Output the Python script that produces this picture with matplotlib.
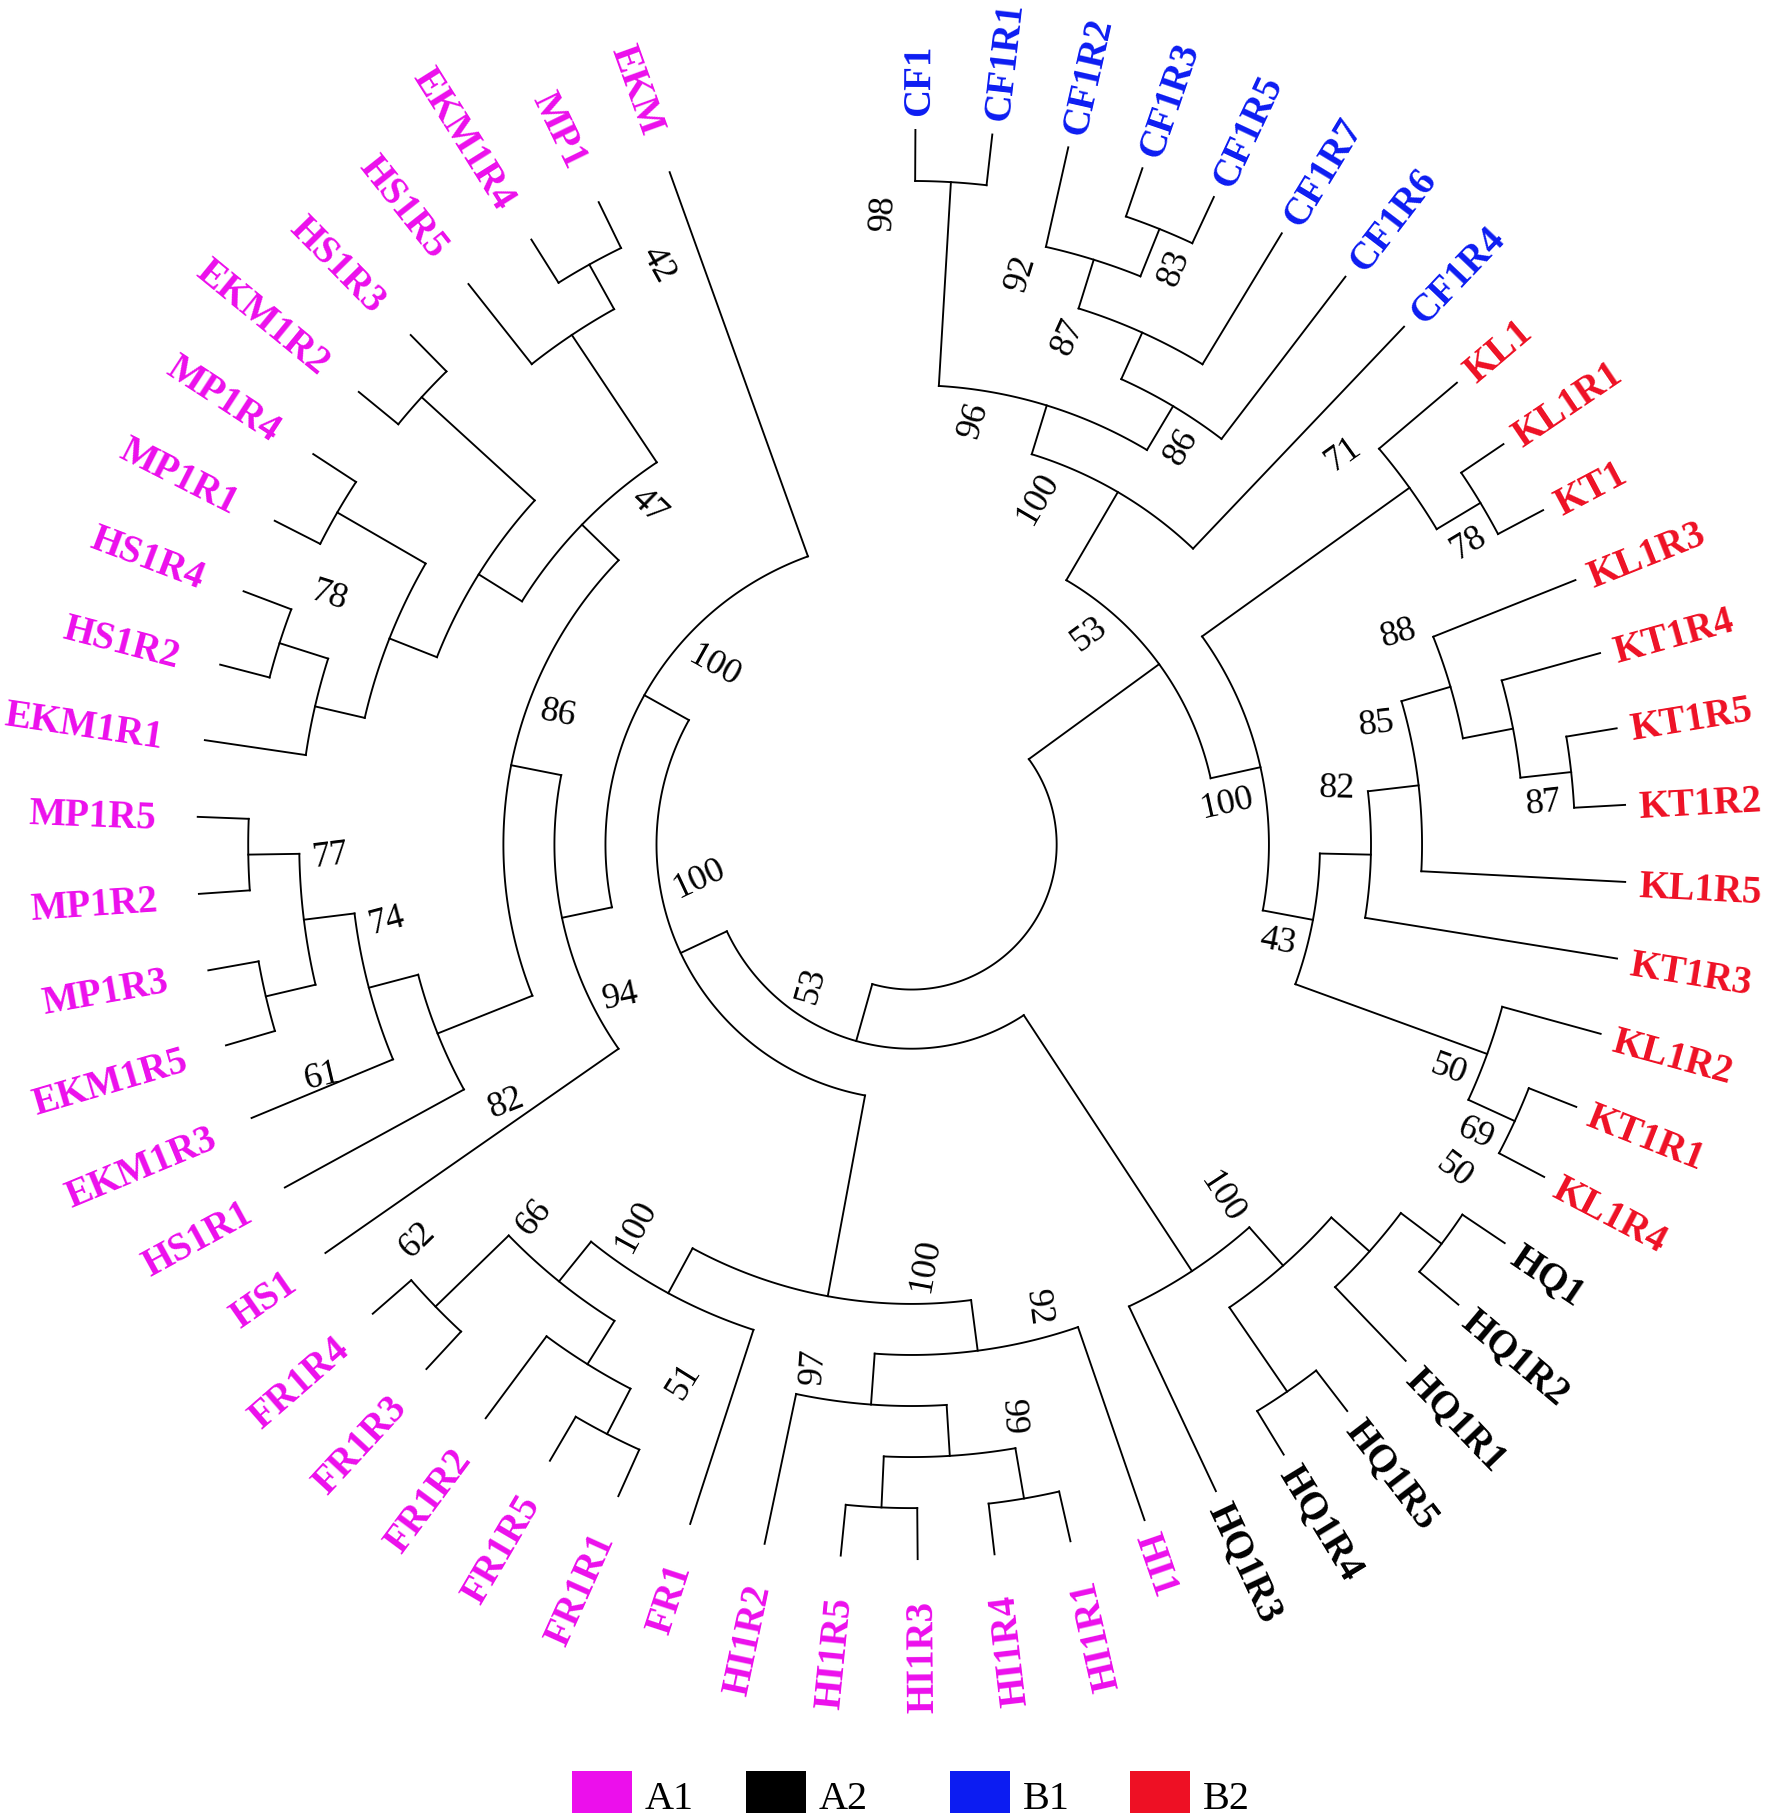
import numpy as np
import matplotlib
matplotlib.use("Agg")
import matplotlib.pyplot as plt
from matplotlib.patches import Rectangle

# Tree topology (Newick) with bootstrap support, leaves listed clockwise from the top
clade_b1 = "(((CF1,CF1R1)98,(((CF1R2,(CF1R3,CF1R5)83)92,CF1R7)87,CF1R6)86)96,CF1R4)100"
clade_b2 = ("((KL1,(KL1R1,KT1)78)71,((((KL1R3,(KT1R4,(KT1R5,KT1R2)87))88,KL1R5)85,KT1R3)82,"
            "(KL1R2,(KT1R1,KL1R4)69)50)43)100")
clade_a2 = "((((HQ1,HQ1R2)50,HQ1R1),(HQ1R5,HQ1R4)),HQ1R3)100"
clade_hi_fr = ("((HI1,(((HI1R1,HI1R4),(HI1R3,HI1R5))99,HI1R2)97)92,"
               "(FR1,(((FR1R1,FR1R5),FR1R2)51,(FR1R3,FR1R4)62)66)100)100")
clade_hs_ekm_mp = ("((HS1,((HS1R1,(EKM1R3,((EKM1R5,MP1R3)61,(MP1R2,MP1R5))77)74)82,"
                   "((((EKM1R1,(HS1R2,HS1R4)78),(MP1R1,MP1R4)),(EKM1R2,HS1R3)),"
                   "(HS1R5,(EKM1R4,MP1)42))47)86)94,EKM)100")
newick = ("((" + clade_b1 + "," + clade_b2 + ")53,(" + clade_a2 + ",("
          + clade_hi_fr + "," + clade_hs_ekm_mp + ")100)53);")

# groups
group_names = ["A1", "A2", "B1", "B2"]
group_prefixes = [("HI", "FR", "HS", "EKM", "MP"), ("HQ",), ("CF",), ("KL", "KT")]
group_colors = ["#ec0fec", "#000000", "#0c1cf2", "#ee1024"]

# layout (pixel space of the picture)
CX, CY = 786.0, 728.0
R_TIP = 616.0
LEVEL = 44.0
THETA0 = 0.3
STEP = 6.18
# which side of the node each bootstrap value sits on (in Newick order)
boot_side = "-+--+--" + "+-+---++++" + "-" + "--" + "-+--+++-" + "-++-++++-+" + "+" + "+"


def parse(s):
    pos = 0

    def token():
        nonlocal pos
        start = pos
        while pos < len(s) and s[pos] not in ",();":
            pos += 1
        return s[start:pos]

    def node():
        nonlocal pos
        if s[pos] == "(":
            pos += 1
            kids = [node()]
            while s[pos] == ",":
                pos += 1
                kids.append(node())
            pos += 1
            return {"kids": kids, "boot": token()}
        return {"name": token()}

    return node()


tree = parse(newick)
leaves, inner = [], []


def layout(n):
    if "name" in n:
        n["theta"] = THETA0 + STEP * len(leaves)
        n["h"] = 0
        leaves.append(n)
    else:
        for k in n["kids"]:
            layout(k)
        n["h"] = max(k["h"] for k in n["kids"]) + 1
        n["theta"] = 0.5 * (n["kids"][0]["theta"] + n["kids"][-1]["theta"])
        inner.append(n)
    n["r"] = R_TIP - LEVEL * n["h"]


layout(tree)
tree["r"] = 125.0  # root arc sits a bit closer to the centre


def xy(r, th):
    t = np.radians(th)
    return CX + r * np.sin(t), CY - r * np.cos(t)


def color_of(name):
    for prefixes, c in zip(group_prefixes, group_colors):
        if name.startswith(prefixes):
            return c
    return "black"


fig = plt.figure(figsize=(17.7, 18.19), dpi=100)
ax = fig.add_axes([0, 0, 1, 1])
ax.set_xlim(0, 1526)
ax.set_ylim(1568, 0)
ax.axis("off")

lw = 1.35
for n in inner:
    th = np.linspace(n["kids"][0]["theta"], n["kids"][-1]["theta"], 120)
    x, y = xy(n["r"], th)
    ax.plot(x, y, color="black", lw=lw, solid_capstyle="projecting")
    for k in n["kids"]:
        x, y = xy(np.array([n["r"], k["r"]]), k["theta"])
        ax.plot(x, y, color="black", lw=lw, solid_capstyle="projecting")

# leaf labels
for lf in leaves:
    th = lf["theta"]
    if th < 164:
        x, y = xy(R_TIP + 12, th)
        rot, ha = 90 - th, "left"
    else:
        x, y = xy(R_TIP + 36, th)
        rot, ha = 270 - th, "right"
    ax.text(x, y, lf["name"], rotation=rot, rotation_mode="anchor", ha=ha,
            va="center_baseline", fontsize=28, fontweight="bold",
            family="Liberation Serif", color=color_of(lf["name"]))

# bootstrap values
labelled = [n for n in inner if n["boot"]]
for n, side in zip(labelled, boot_side):
    txt = n["boot"]
    rl = n["r"] - (34 if len(txt) > 2 else 26)
    if n["theta"] < 180:
        shift = -60 if side == "-" else 21
    else:
        shift = 55 if side == "+" else -75
    thl = n["theta"] + np.degrees(shift / rl)
    x, y = xy(rl, thl)
    rot = 90 - n["theta"] if n["theta"] < 180 else 270 - n["theta"]
    ax.text(x, y, txt, rotation=rot, rotation_mode="anchor", ha="center",
            va="center_baseline", fontsize=26, family="Liberation Serif",
            color="black")

# legend
legend_x = [493, 643, 819, 974]
for gx, name, c in zip(legend_x, group_names, group_colors):
    ax.add_patch(Rectangle((gx, 1527), 52, 36, facecolor=c, edgecolor="none"))
    ax.text(gx + 63, 1547, name, ha="left", va="center_baseline", fontsize=29,
            family="Liberation Serif", color="black")

fig.savefig("out.png", dpi=100)
